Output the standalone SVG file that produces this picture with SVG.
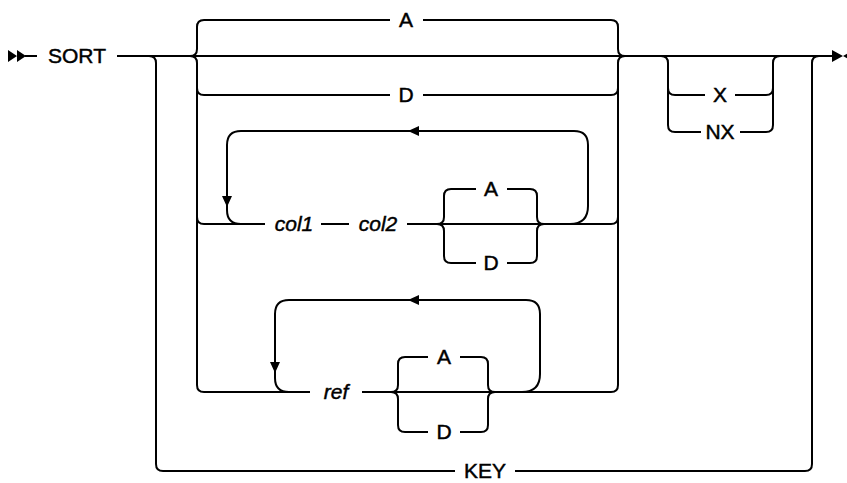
<svg xmlns="http://www.w3.org/2000/svg" width="847" height="483" viewBox="0 0 847 483">
<style>
.c{fill:none;stroke:#000;stroke-width:2}
.a{fill:#000;stroke:none}
text{font-family:"Liberation Sans",Arial,sans-serif;font-size:21px;fill:#000;stroke:#000;stroke-width:0.45;text-anchor:middle}
.i{font-style:italic}
</style>
<rect width="847" height="483" fill="#fff"/>
<g id="connectors">
<!-- start/end markers -->
<path class="a" d="M8,50 L17,56 L8,62 Z M17,50 L26,56 L17,62 Z"/>
<path class="a" d="M832,50 L843,56 L832,62 Z M854,50 L843,56 L854,62 Z"/>
<!-- main line -->
<path class="c" d="M25,56 H37 M117,56 H832"/>
<!-- outer KEY bypass -->
<path class="c" d="M149,56 Q156,56 156,63 V464 Q156,471 163,471 H455 M515,471 H805 Q812,471 812,464 V63 Q812,56 819,56"/>
<!-- A / D brace -->
<path class="c" d="M190,56 Q197,56 197,49 V27 Q197,20 204,20 H390 M423,20 H611 Q618,20 618,27 V49 Q618,56 625,56"/>
<path class="c" d="M190,56 Q197,56 197,63 V88 Q197,95 204,95 H390 M423,95 H611 Q618,95 618,88 V63 Q618,56 625,56"/>
<!-- inner verticals -->
<path class="c" d="M197,88 V385 Q197,392 204,392 H310 M362,392 H611 Q618,392 618,385 V88"/>
<!-- col1 col2 row -->
<path class="c" d="M197,217 Q197,224 204,224 H265 M321,224 H349 M407,224 H611 Q618,224 618,217"/>
<path class="c" d="M570,224 Q588,224 588,206 V145 Q588,131 574,131 H241 Q227,131 227,145 V210 Q227,224 241,224"/>
<path class="a" d="M408,131 L419,126 L419,136 Z M222,196 L232,196 L227,207 Z"/>
<path class="c" d="M437,224 Q444,224 444,217 V196 Q444,189 451,189 H476 M507,189 H530 Q537,189 537,196 V217 Q537,224 544,224"/>
<path class="c" d="M437,224 Q444,224 444,231 V256 Q444,263 451,263 H476 M507,263 H530 Q537,263 537,256 V231 Q537,224 544,224"/>
<!-- ref row -->
<path class="c" d="M522,392 Q540,392 540,374 V314 Q540,300 526,300 H289 Q275,300 275,314 V378 Q275,392 289,392"/>
<path class="a" d="M408,300 L419,295 L419,305 Z M270,362 L280,362 L275,373 Z"/>
<path class="c" d="M391,392 Q398,392 398,385 V364 Q398,357 405,357 H428 M460,357 H481 Q488,357 488,364 V385 Q488,392 495,392"/>
<path class="c" d="M391,392 Q398,392 398,399 V425 Q398,432 405,432 H428 M460,432 H481 Q488,432 488,425 V399 Q488,392 495,392"/>
<!-- X / NX -->
<path class="c" d="M661,56 Q668,56 668,63 V88 Q668,95 675,95 H705 M735,95 H766 Q773,95 773,88 V63 Q773,56 780,56"/>
<path class="c" d="M668,88 V125 Q668,132 675,132 H701 M740,132 H766 Q773,132 773,125 V88"/>
</g>
<g id="n-sort"><text x="77" y="63">SORT</text></g>
<g id="n-a1"><text x="406" y="27">A</text></g>
<g id="n-d1"><text x="406" y="102">D</text></g>
<g id="n-col1"><text class="i" x="294" y="231">col1</text></g>
<g id="n-col2"><text class="i" x="378" y="231">col2</text></g>
<g id="n-a2"><text x="491" y="196">A</text></g>
<g id="n-d2"><text x="491" y="270">D</text></g>
<g id="n-ref"><text class="i" x="336" y="399">ref</text></g>
<g id="n-a3"><text x="444" y="364">A</text></g>
<g id="n-d3"><text x="444" y="439">D</text></g>
<g id="n-x"><text x="720" y="102">X</text></g>
<g id="n-nx"><text x="720" y="139">NX</text></g>
<g id="n-key"><text x="485" y="478">KEY</text></g>
</svg>
